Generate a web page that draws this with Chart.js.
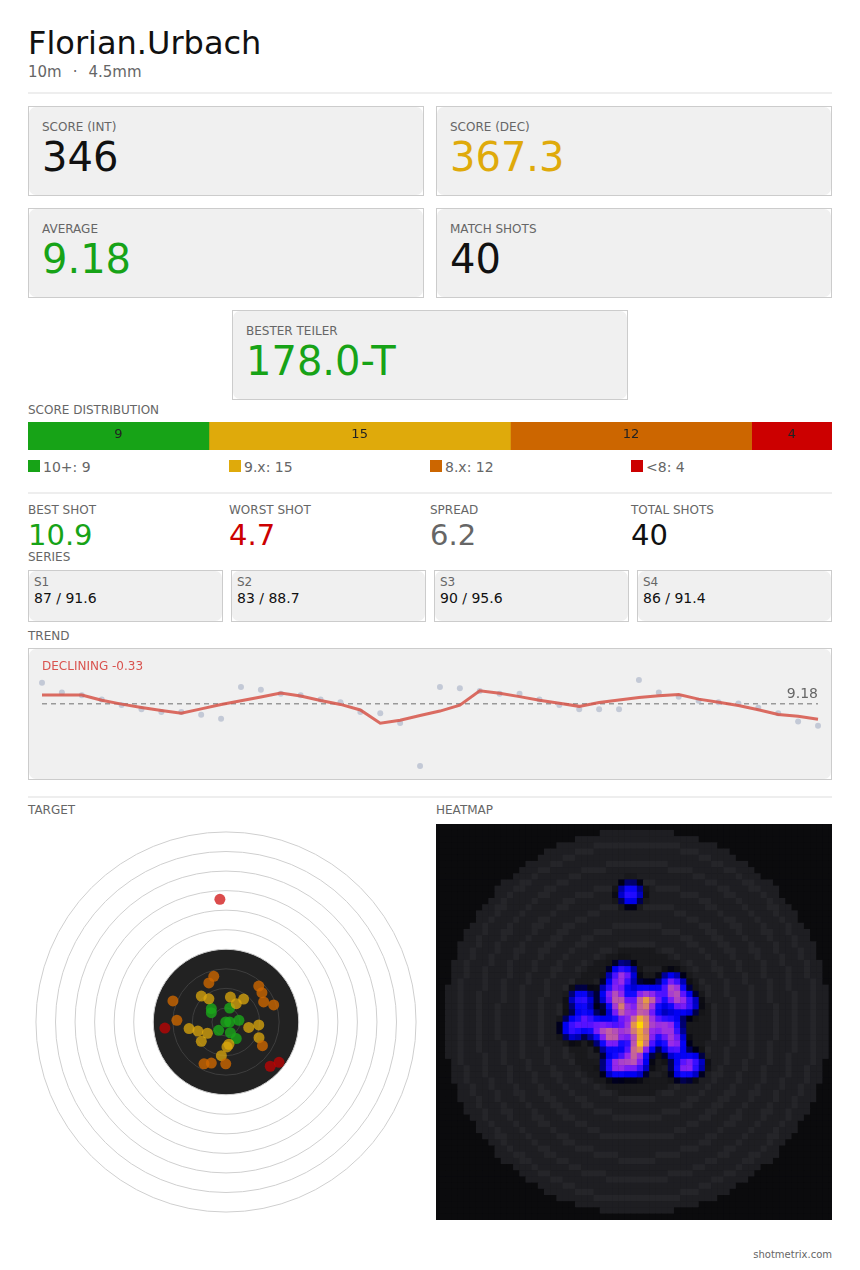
<!DOCTYPE html>
<html>
<head>
<meta charset="utf-8">
<script src="https://cdn.jsdelivr.net/npm/chart.js@4.4.1/dist/chart.umd.min.js"></script>
<style>
body{margin:0;width:860px;height:1270px;position:relative;background:#fff;font-family:"DejaVu Sans",sans-serif;overflow:hidden}
.a{position:absolute;white-space:nowrap;line-height:1}
.lbl{font-size:12px;color:#666}
.card{position:absolute;box-sizing:border-box;border:1px solid #ccc;background:#fff}
.card::before{content:"";position:absolute;left:0;top:0;right:0;bottom:0;background:#f0f0f0;border-radius:7px}
.card .lbl{left:13px;top:14px}
.card .val{position:absolute;left:13px;top:30px;font-size:40px;line-height:1;white-space:nowrap}
.hr{position:absolute;left:28px;width:804px;height:2px;background:#eee}
canvas{position:absolute;display:block}
.stat{font-size:29px}
.card.sc .lbl{left:5px;top:5px}
.sc .sv{position:absolute;left:5px;top:20px;font-size:14px;line-height:1;color:#111;white-space:nowrap}
</style>
</head>
<body>

<div class="a" style="left:28px;top:27px;font-size:32px;color:#111">Florian.Urbach</div>
<div class="a" style="left:28px;top:65px;font-size:15px;color:#666">10m<span style="margin:0 11px">·</span>4.5mm</div>
<div class="hr" style="top:92px"></div>

<div class="card" style="left:28px;top:106px;width:396px;height:90px"><div class="a lbl">SCORE (INT)</div><div class="val" style="color:#111">346</div></div>
<div class="card" style="left:436px;top:106px;width:396px;height:90px"><div class="a lbl">SCORE (DEC)</div><div class="val" style="color:#dfaa0b">367.3</div></div>
<div class="card" style="left:28px;top:208px;width:396px;height:90px"><div class="a lbl">AVERAGE</div><div class="val" style="color:#17a317">9.18</div></div>
<div class="card" style="left:436px;top:208px;width:396px;height:90px"><div class="a lbl">MATCH SHOTS</div><div class="val" style="color:#111">40</div></div>
<div class="card" style="left:232px;top:310px;width:396px;height:90px"><div class="a lbl">BESTER TEILER</div><div class="val" style="color:#17a317">178.0-T</div></div>

<div class="a lbl" style="left:28px;top:404px">SCORE DISTRIBUTION</div>
<canvas id="dist" width="804" height="28" style="left:28px;top:422px"></canvas>
<div id="distText"></div>
<div id="distLegend"></div>
<div class="hr" style="top:492px"></div>

<div class="a lbl" style="left:28px;top:504px">BEST SHOT</div>
<div class="a lbl" style="left:229px;top:504px">WORST SHOT</div>
<div class="a lbl" style="left:430px;top:504px">SPREAD</div>
<div class="a lbl" style="left:631px;top:504px">TOTAL SHOTS</div>
<div class="a stat" style="left:28px;top:521px;color:#17a317">10.9</div>
<div class="a stat" style="left:229px;top:521px;color:#cc0000">4.7</div>
<div class="a stat" style="left:430px;top:521px;color:#666">6.2</div>
<div class="a stat" style="left:631px;top:521px;color:#111">40</div>

<div class="a lbl" style="left:28px;top:551px">SERIES</div>
<div id="series"></div>

<div class="a lbl" style="left:28px;top:630px">TREND</div>
<div class="card" style="left:28px;top:648px;width:804px;height:132px"></div>
<canvas id="trend" width="802" height="130" style="left:29px;top:649px"></canvas>
<div class="a" style="left:42px;top:660px;font-size:12px;color:#d9534f">DECLINING -0.33</div>
<div class="a" id="avgLabel" style="left:718px;width:100px;text-align:right;font-size:14px;color:#666">9.18</div>

<div class="hr" style="top:796px"></div>
<div class="a lbl" style="left:28px;top:804px">TARGET</div>
<div class="a lbl" style="left:436px;top:804px">HEATMAP</div>
<canvas id="target" width="396" height="396" style="left:28px;top:824px"></canvas>
<canvas id="heat" width="396" height="396" style="left:436px;top:824px;background:#0b0b0d"></canvas>

<div class="a" style="left:632px;width:200px;text-align:right;top:1250px;font-size:10px;color:#666">shotmetrix.com</div>

<script>
// score distribution
const distLabels = ['10+', '9.x', '8.x', '<8'];
const distCounts = [9, 15, 12, 4];
const distColors = ['#17a317', '#dfaa0b', '#cc6600', '#cc0000'];

// series
const seriesNames = ['S1', 'S2', 'S3', 'S4'];
const seriesInt = [87, 83, 90, 86];
const seriesDec = [91.6, 88.7, 95.6, 91.4];

// shot values in order
const scores = [10.7, 10.0, 9.8, 9.5, 9.1, 8.8, 8.6, 8.6, 8.4, 8.1,
                10.4, 10.2, 9.9, 9.8, 9.5, 9.3, 8.6, 8.5, 7.8, 4.7,
                10.4, 10.3, 10.1, 9.9, 9.9, 9.5, 9.1, 8.8, 8.8, 8.8,
                10.9, 10.0, 9.7, 9.4, 9.3, 9.2, 8.9, 8.5, 7.9, 7.6];
// trend line
const trend = [9.82, 9.82, 9.82, 9.44, 9.16, 8.92, 8.70, 8.50, 8.82, 9.14,
               9.40, 9.68, 9.96, 9.74, 9.42, 9.14, 8.74, 7.78, 8.00, 8.34,
               8.66, 9.08, 10.12, 9.94, 9.70, 9.44, 9.22, 9.00, 9.28, 9.46,
               9.64, 9.76, 9.86, 9.52, 9.30, 9.06, 8.76, 8.42, 8.28, 8.07];
const avgScore = 9.18;
const worstShot = 4.7;
const bestShot = 10.9;

// hit positions in mm, x right, y up
const shots10 = [[-6.0, 5.5], [-6.0, 3.8], [1.5, 5.7], [-0.1, 0.0], [1.5, 0.0],
                 [5.3, 0.7], [-3.0, -3.4], [1.8, -4.4], [4.2, -6.8]];
const shots9 = [[-10.1, 10.6], [-7.0, 9.5], [1.8, 10.2], [4.2, 7.5], [7.2, 9.4],
                [-15.1, -2.7], [-11.5, -3.7], [-7.6, -4.6], [-10.1, -7.9], [9.3, -2.2],
                [13.4, -1.2], [13.5, -6.4], [1.2, -9.1], [0.4, -10.2], [-1.9, -13.8]];
const shots8 = [[-5.0, 18.7], [-7.0, 16.0], [-21.7, 8.6], [13.4, 14.7], [14.7, 12.0],
                [15.4, 8.2], [19.5, 7.0], [-20.1, 0.7], [14.9, -9.7], [-9.0, -17.1],
                [-6.0, -16.8], [-0.1, -17.1]];
const shotsLow = [[-25.0, -2.5], [18.1, -18.1], [21.7, -16.5], [-2.5, 50.2]];

// air pistol target geometry (mm)
const ringRadii = [77.75, 69.75, 61.75, 53.75, 45.75, 37.75, 29.75, 21.75, 13.75, 5.75];
const blackRadius = 29.75;
const caliber = 4.5;

const shotColors = ['rgba(26,166,26,0.8)', 'rgba(222,168,12,0.75)', 'rgba(204,102,0,0.8)', 'rgba(204,0,0,0.7)'];

const noUi = {legend: {display: false}, tooltip: {enabled: false}};

// ---- distribution bar
const total = distCounts.reduce((a, b) => a + b, 0);
const distChart = new Chart(document.getElementById('dist'), {
    type: 'bar',
    data: {
        labels: ['shots'],
        datasets: distCounts.map((c, i) => ({
            label: distLabels[i], data: [c], backgroundColor: distColors[i],
            borderWidth: 0, barPercentage: 1, categoryPercentage: 1
        }))
    },
    options: {
        indexAxis: 'y', responsive: false, animation: false, events: [],
        layout: {padding: 0, autoPadding: false},
        plugins: noUi,
        scales: {
            x: {display: false, stacked: true, min: 0, max: total},
            y: {display: false, stacked: true}
        }
    }
});

const distText = document.getElementById('distText');
distCounts.forEach((c, i) => {
    const bar = distChart.getDatasetMeta(i).data[0];
    const d = document.createElement('div');
    d.className = 'a';
    d.style.cssText = `left:${28 + bar.base}px;width:${bar.x - bar.base}px;top:427px;text-align:center;font-size:13px;color:#222`;
    d.textContent = c;
    distText.appendChild(d);
});

const distLegend = document.getElementById('distLegend');
distCounts.forEach((c, i) => {
    const left = 28 + i * 201;
    const sq = document.createElement('div');
    sq.style.cssText = `position:absolute;left:${left}px;top:460px;width:12px;height:12px;background:${distColors[i]}`;
    distLegend.appendChild(sq);
    const t = document.createElement('div');
    t.className = 'a';
    t.style.cssText = `left:${left + 15}px;top:460px;font-size:14px;color:#666`;
    t.textContent = `${distLabels[i]}: ${c}`;
    distLegend.appendChild(t);
});

// ---- series cards
const seriesDiv = document.getElementById('series');
seriesNames.forEach((name, i) => {
    const card = document.createElement('div');
    card.className = 'card sc';
    card.style.cssText = `left:${28 + i * 203}px;top:570px;width:195px;height:52px`;
    card.innerHTML = `<div class="a lbl">${name}</div><div class="sv">${seriesInt[i]} / ${seriesDec[i].toFixed(1)}</div>`;
    seriesDiv.appendChild(card);
});

// ---- trend
const avgLine = {
    id: 'avgLine',
    beforeDatasetsDraw(chart) {
        const {ctx, chartArea, scales: {y}} = chart;
        const yy = y.getPixelForValue(avgScore);
        ctx.save();
        ctx.strokeStyle = '#999';
        ctx.lineWidth = 1.5;
        ctx.setLineDash([5, 4]);
        ctx.beginPath();
        ctx.moveTo(chartArea.left, yy);
        ctx.lineTo(chartArea.right, yy);
        ctx.stroke();
        ctx.restore();
    }
};

const trendChart = new Chart(document.getElementById('trend'), {
    type: 'line',
    data: {
        labels: scores.map((_, i) => i + 1),
        datasets: [
            {data: trend, borderColor: 'rgba(214,84,72,0.85)', borderWidth: 3, pointRadius: 0, tension: 0, clip: false},
            {data: scores, showLine: false, pointRadius: 3, pointBackgroundColor: '#c3c9d6', pointBorderWidth: 0, clip: false}
        ]
    },
    options: {
        responsive: false, animation: false, events: [],
        layout: {padding: {left: 13, right: 13, top: 31, bottom: 13}, autoPadding: false},
        plugins: noUi,
        scales: {
            x: {display: false, offset: false},
            y: {display: false, min: worstShot, max: bestShot}
        }
    },
    plugins: [avgLine]
});
document.getElementById('avgLabel').style.top =
    (649 + trendChart.scales.y.getPixelForValue(avgScore) - 6 - 0.846 * 14) + 'px';

// ---- target
const mmToPx = (chart, mm) => chart.scales.x.getPixelForValue(mm) - chart.scales.x.getPixelForValue(0);

const rings = {
    id: 'rings',
    beforeDatasetsDraw(chart) {
        const {ctx, scales: {x, y}} = chart;
        const cx = x.getPixelForValue(0), cy = y.getPixelForValue(0);
        ctx.save();
        ctx.fillStyle = '#222';
        ctx.beginPath();
        ctx.arc(cx, cy, mmToPx(chart, blackRadius), 0, Math.PI * 2);
        ctx.fill();
        ctx.lineWidth = 1;
        ringRadii.forEach(r => {
            ctx.strokeStyle = r < blackRadius ? '#3e3e3e' : '#cfcfcf';
            ctx.beginPath();
            ctx.arc(cx, cy, mmToPx(chart, r), 0, Math.PI * 2);
            ctx.stroke();
        });
        ctx.restore();
    }
};

const toPts = arr => arr.map(p => ({x: p[0], y: p[1]}));
const shotRadius = ctx => mmToPx(ctx.chart, caliber / 2);

new Chart(document.getElementById('target'), {
    type: 'scatter',
    data: {
        datasets: [shotsLow, shots8, shots9, shots10].map((s, k) => ({
            data: toPts(s),
            pointRadius: shotRadius,
            pointBackgroundColor: shotColors[3 - k],
            pointBorderWidth: 0
        }))
    },
    options: {
        responsive: false, animation: false, events: [],
        layout: {padding: 0, autoPadding: false},
        plugins: noUi,
        scales: {
            x: {display: false, min: -81, max: 81},
            y: {display: false, min: -81, max: 81}
        }
    },
    plugins: [rings]
});

// ---- heatmap
const HEAT_N = 64;
const heatHalf = 77.5;
const cellMm = 2 * heatHalf / HEAT_N;
const sigma = cellMm * 1.1;
const allShots = [...shots10, ...shots9, ...shots8, ...shotsLow];

const heatStops = [
    [0.01, 0, 0, 0, 0],
    [0.02, 10, 10, 12, 0.5],
    [0.04, 0, 0, 20, 1],
    [0.07, 0, 0, 70, 1],
    [0.12, 0, 0, 170, 1],
    [0.18, 0, 0, 240, 1],
    [0.3, 20, 10, 255, 1],
    [0.42, 100, 20, 255, 1],
    [0.55, 150, 40, 235, 1],
    [0.7, 190, 90, 170, 1],
    [0.85, 225, 145, 80, 1],
    [1.0, 255, 215, 0, 1]
];

const heatColor = t => {
    if (t <= heatStops[0][0]) return null;
    for (let k = 1; k < heatStops.length; k++) {
        const b = heatStops[k];
        if (t <= b[0]) {
            const a = heatStops[k - 1];
            const f = (t - a[0]) / (b[0] - a[0]);
            return [1, 2, 3, 4].map(j => a[j] + (b[j] - a[j]) * f);
        }
    }
    return heatStops[heatStops.length - 1].slice(1);
};

const cellBg = (x, y) => {
    const d = Math.hypot(x, y);
    if (d > 75.5) return [11, 11, 13];
    const onRing = ringRadii.some(r => Math.abs(d - r) < cellMm / 2);
    if (d <= blackRadius) return onRing ? [31, 31, 35] : [25, 25, 28];
    return onRing ? [37, 37, 41] : [30, 30, 34];
};

const cells = [];
const dens = [];
for (let j = 0; j < HEAT_N; j++) {
    for (let i = 0; i < HEAT_N; i++) {
        const x = -heatHalf + (i + 0.5) * cellMm;
        const y = heatHalf - (j + 0.5) * cellMm;
        let s = 0;
        allShots.forEach(p => {
            const dx = x - p[0], dy = y - p[1];
            s += Math.exp(-(dx * dx + dy * dy) / (2 * sigma * sigma));
        });
        cells.push({x, y});
        dens.push(s);
    }
}
const maxDens = Math.max(...dens);
const cellColors = cells.map((c, k) => {
    const bg = cellBg(c.x, c.y);
    const h = heatColor(dens[k] / maxDens);
    if (!h) return `rgb(${bg[0]},${bg[1]},${bg[2]})`;
    const a = h[3];
    const m = [0, 1, 2].map(j => Math.round(bg[j] * (1 - a) + h[j] * a));
    return `rgb(${m[0]},${m[1]},${m[2]})`;
});

new Chart(document.getElementById('heat'), {
    type: 'scatter',
    data: {
        datasets: [{
            data: cells,
            pointStyle: 'rect',
            pointRadius: ctx => mmToPx(ctx.chart, cellMm) * 0.76,
            pointBackgroundColor: cellColors,
            pointBorderWidth: 0
        }]
    },
    options: {
        responsive: false, animation: false, events: [],
        layout: {padding: 0, autoPadding: false},
        plugins: noUi,
        scales: {
            x: {display: false, min: -heatHalf - 1.2, max: heatHalf - 1.2},
            y: {display: false, min: -heatHalf, max: heatHalf}
        }
    }
});
</script>
</body>
</html>
